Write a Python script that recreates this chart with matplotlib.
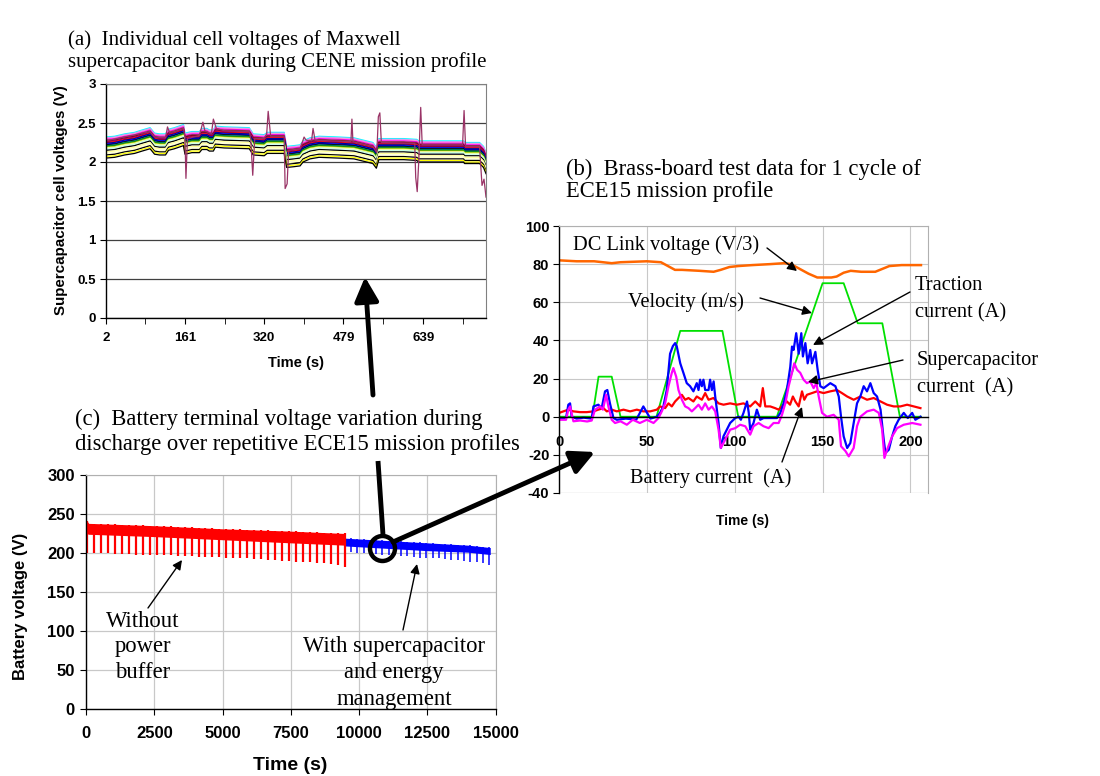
import numpy as np
import matplotlib
matplotlib.use('Agg')
import matplotlib.pyplot as plt
from matplotlib.patches import Circle
from matplotlib.ticker import FuncFormatter

SERIF = 'Liberation Serif'
SANS = 'Liberation Sans'
plt.rcParams['font.family'] = SANS
plt.rcParams['font.weight'] = 'bold'
plt.rcParams['axes.unicode_minus'] = False

# ---------------- Panel (a) data : supercapacitor cell voltages ----------------
cell_t = [2, 20, 40, 60, 75, 91, 100, 110, 122, 128,
          140, 158, 161, 175, 190, 195, 205, 210, 218, 222,
          240, 290, 298, 320, 326, 335, 360, 365, 380, 392,
          398, 412, 430, 470, 500, 538, 545, 550, 600, 626,
          630, 700, 720, 722, 752, 760, 765]
cell_top = [2.32, 2.33, 2.36, 2.38, 2.41, 2.44, 2.37, 2.36, 2.36, 2.42,
            2.44, 2.48, 2.37, 2.39, 2.39, 2.43, 2.43, 2.41, 2.41, 2.46,
            2.45, 2.44, 2.36, 2.35, 2.38, 2.38, 2.38, 2.20, 2.21, 2.22,
            2.27, 2.31, 2.33, 2.32, 2.31, 2.25, 2.19, 2.30, 2.30, 2.29,
            2.27, 2.27, 2.27, 2.25, 2.25, 2.20, 2.12]
cell_offsets = [0.0, 0.01, 0.02, 0.03, 0.04, 0.05, 0.06, 0.07, 0.08, 0.09,
                0.10, 0.11, 0.12, 0.13, 0.14, 0.15, 0.16, 0.17, 0.19, 0.21,
                0.23, 0.25, 0.27]
cell_colors = ['#00FFFF', '#CC99FF', '#FF99CC', '#FF00FF', '#993366', '#800000',
               '#800080', '#FF0000', '#000080', '#0000FF', '#000000', '#008080',
               '#008000', '#99CC00', '#FFFF99', '#CCFFCC', '#CCFFFF', '#000000',
               '#FFFF99', '#FFFFCC', '#000000', '#FFFF00', '#000000']
odd_t = [2, 91, 100, 122, 126, 130, 140, 158, 161, 163,
         166, 190, 197, 201, 214, 218, 224, 240, 290, 293,
         297, 301, 320, 325, 328, 333, 360, 362, 366, 369,
         392, 400, 404, 415, 418, 422, 494, 496, 498, 538,
         546, 549, 552, 555, 622, 624, 627, 630, 634, 637,
         718, 721, 724, 752, 757, 761, 765]
odd_v = [2.27, 2.39, 2.32, 2.31, 2.45, 2.38, 2.39, 2.43, 2.32, 1.79,
         2.30, 2.34, 2.51, 2.40, 2.36, 2.55, 2.43, 2.40, 2.39, 2.30,
         1.83, 2.30, 2.30, 2.36, 2.65, 2.33, 2.33, 1.66, 1.72, 2.15,
         2.17, 2.32, 2.28, 2.27, 2.43, 2.28, 2.26, 2.55, 2.26, 2.20,
         2.12, 2.58, 2.63, 2.25, 2.24, 1.80, 1.62, 2.00, 2.70, 2.22,
         2.22, 2.66, 2.20, 2.20, 1.70, 1.78, 1.55]
a_xticks = [2, 161, 320, 479, 639]
a_xminor = [81.5, 240.5, 399.5, 559, 718]

# ---------------- Panel (b) data : brass-board test, one ECE15 cycle ----------------
vel_t = [0, 19, 22.5, 30, 35, 55.5, 69, 93, 102, 124, 150, 162, 170, 184, 194, 206]
vel_v = [0, 0, 21, 21, 0, 0, 45, 45, 0, 0, 70, 70, 49, 49, 0, 0]

dc_t = [0, 10, 20, 25, 30, 35, 50, 58, 62, 66, 70, 80, 88, 92, 97, 102, 110,
        120, 128, 132, 137, 142, 147, 155, 158, 162, 166, 172, 180, 184, 188, 195, 206]
dc_v = [82, 81.5, 81.5, 81, 80.5, 81, 81.5, 81, 79, 77, 77, 76.5, 76, 77, 78.5, 79, 79.5,
        80, 80.5, 80, 77.5, 75, 73, 73, 73.5, 75.5, 76.5, 76, 76, 77.5, 79, 79.5, 79.5]

trac_t = [0, 4, 5.3, 6.3, 7.2, 10, 14, 18.6, 19.6, 22.4,
          24.3, 26.2, 27.5, 29, 31, 32.9, 38, 44, 48, 52,
          55.7, 57.5, 59.4, 61.3, 63.2, 64.8, 66.1, 67, 69, 70.8,
          72.7, 74.6, 76.5, 78.4, 79.4, 80.3, 81.3, 82.2, 83.2, 85.1,
          86, 87, 88, 88.9, 90.8, 92.1, 93.6, 95.5, 97.4, 100.3,
          102.2, 103.5, 105, 107, 108, 108.8, 110.7, 112.6, 114.5, 116.4,
          120, 124, 126, 127.8, 129.7, 131.6, 132.6, 133.5, 135, 136.4,
          137.9, 138.8, 140.2, 141.5, 143, 144, 145.9, 147.2, 148.7, 150.6,
          154.4, 157.3, 159.2, 160.5, 162, 164, 165.8, 167.7, 169.6, 171.5,
          173.4, 175.3, 177.2, 179.1, 181, 183, 184.8, 185.8, 187.7, 189.6,
          191.4, 193.3, 196.2, 198.5, 201, 202.8, 205.7]
trac_v = [-0.7, -0.7, 6.3, 7, 0, -1, -0.5, -1, 5.4, 6.3,
          4.5, 13.3, 14, 7, -0.7, -1.6, -1, -1.5, 5.4, -1,
          0, 2, 5.4, 14, 33, 37, 38.6, 37, 28, 23,
          17.6, 16, 13.3, 17.6, 14, 19.4, 16, 19.4, 14, 14,
          19.4, 14, 18.5, 10.6, -3.3, -16.4, -10.3, -6.8, -3.3, -0.7,
          0, -1.6, 2, 8, 2, -6.8, -3.3, 3.7, -1.6, -0.7,
          -0.7, -0.7, 2, 7, 14, 26, 36.8, 35, 43.8, 33,
          43.8, 31.6, 38.6, 28, 35, 28, 34, 24.6, 16, 15,
          17.6, 16, 10.6, 0, -10.3, -16.4, -13.8, -3.3, 7, 10.6,
          16, 13.3, 17.6, 12.4, 10.6, 3.7, -12, -19, -17.3, -10.3,
          -5, -1.6, 2, -0.7, 2, -1.6, 0]

sc_t = [0, 4, 5.3, 6.3, 8.2, 12, 16, 18.6, 20.5, 23.4,
        25, 26.8, 28.1, 30, 31.9, 35, 38.6, 42, 46, 50,
        53.8, 56.6, 58.5, 60.4, 62.3, 64.2, 65.1, 66.7, 68, 69.9,
        71.8, 73.7, 75.6, 77.5, 79.4, 81.3, 83.2, 85.1, 87, 88.9,
        90.8, 92.1, 94.6, 97.4, 100.3, 103.1, 106, 108.8, 110.7, 113.6,
        116.4, 119.3, 122.1, 125, 126.9, 128.8, 130.7, 132.6, 133.9, 135.5,
        137.3, 139.2, 141.1, 143, 144.9, 146.5, 147.8, 149.7, 152.5, 156.3,
        159.2, 160.5, 163, 164.9, 167.7, 169.6, 171.5, 175.3, 179.1, 182,
        183.9, 185.2, 186.7, 189.6, 192.4, 196.2, 201, 205.7]
sc_v = [-1.6, -1.6, 3.7, 5.4, -2.4, -2, -2.5, -2, 3.7, 5.4,
        3.7, 11.5, 5.4, -1.6, -3.3, -2.4, -4.2, -1.6, -3.3, -1.6,
        -3.3, -0.7, 2.8, 7, 16, 23, 25.5, 21, 14, 9,
        5.4, 4.5, 2.8, 4.5, 6.3, 3.7, 7, 3.7, 5.4, 2.8,
        -6.8, -16.4, -12, -6.8, -6, -4.2, -5, -9.4, -5, -3.3,
        -5, -6, -3.3, -3.3, 1, 7, 16, 23, 28, 24.6,
        23, 19.4, 17.6, 18.5, 15, 17.6, 10.6, 2, 0, 1,
        -1.6, -15.5, -18, -20.8, -16.4, -5, 0, 2.8, 3.7, 2,
        -6.8, -21.6, -17.3, -10.3, -6, -4.2, -3.3, -4.2]

bat_t = [0, 2.5, 5.3, 8.2, 12, 15.8, 19.6, 22.4, 25.3, 27.2,
         30, 32.9, 36.7, 40.5, 44.3, 48, 51.9, 55.7, 57.5, 60.4,
         62.3, 64.2, 66.1, 68, 69.9, 71.8, 73.7, 76.5, 78.4, 81.3,
         83.2, 85.1, 87.9, 90.8, 93.6, 97.4, 101.2, 105, 108.8, 111.7,
         114.5, 116, 117.4, 120.2, 123, 125, 127.8, 129.7, 131.5, 133.1,
         134.5, 136.4, 138.3, 139.6, 141.1, 144, 146.8, 150.6, 154.4, 158.2,
         161, 164, 167.7, 171.5, 175.3, 179.1, 183, 186.7, 190.5, 194.3,
         198.1, 201.9, 205.7]
bat_v = [2, 2.8, 3.7, 2.8, 2.4, 2.4, 2.8, 3.7, 4.5, 2.8,
         3.7, 2.8, 3.7, 2.8, 3.7, 2.8, 2.8, 3.7, 5.4, 4.5,
         7, 5.4, 8, 9.8, 11.5, 8.9, 9.8, 8, 10.6, 8.9,
         12.4, 8.9, 9.8, 7, 6.3, 7, 6.3, 7, 5.4, 8,
         5.4, 15, 5.4, 5.4, 4.5, 3.7, 6.3, 8, 6.3, 10.6,
         8, 5.4, 13.3, 8.9, 11.5, 12.4, 13.3, 12.4, 13.3, 14,
         12.4, 10.6, 8.9, 10.6, 8.9, 9.8, 8, 6.3, 5.4, 5.4,
         6.3, 5.4, 4.5]

# ---------------- Panel (c) data : battery terminal voltage ----------------
red_env_t = [0, 100, 2500, 5000, 7500, 9500]
red_top = [243, 238, 235, 231, 228, 225]
red_bot = [225, 224, 221, 217, 213, 210]
red_cycle_t = [40, 295, 550, 805, 1060, 1315, 1570, 1825, 2080, 2335,
               2590, 2845, 3100, 3355, 3610, 3865, 4120, 4375, 4630, 4885,
               5140, 5395, 5650, 5905, 6160, 6415, 6670, 6925, 7180, 7435,
               7690, 7945, 8200, 8455, 8710, 8965, 9220, 9475]
red_min = [200, 200, 200, 200, 199, 199, 199, 198, 198, 198,
           197, 197, 197, 196, 196, 196, 195, 195, 195, 195,
           194, 194, 193, 193, 192, 192, 191, 191, 190, 190,
           189, 189, 188, 187, 187, 186, 185, 182]
blue_env_t = [9500, 11000, 12500, 14000, 14800]
blue_top = [219, 216, 213, 210, 207]
blue_bot = [209, 206, 203, 201, 198]
blue_cycle_t = [9700, 9930, 10160, 10390, 10620, 10850, 11080, 11310, 11540, 11770,
                12000, 12230, 12460, 12690, 12920, 13150, 13380, 13610, 13840, 14070,
                14300, 14530, 14760]
blue_min = [201, 200, 200, 199, 199, 198, 197, 197, 196, 196,
            195, 194, 194, 193, 193, 192, 191, 191, 190, 189,
            188, 187, 184]

# ---------------- figure ----------------
W, H = 1100, 776
fig = plt.figure(figsize=(W / 100, H / 100), dpi=100)


def ax_px(l, t, r, b):
    return fig.add_axes([l / W, 1 - b / H, (r - l) / W, (b - t) / H])


def style_frame(ax, gray='#808080'):
    for s in ['top', 'right']:
        ax.spines[s].set_color(gray)
        ax.spines[s].set_linewidth(0.8)
    for s in ['left', 'bottom']:
        ax.spines[s].set_color('black')
        ax.spines[s].set_linewidth(1.0)


fmt_g = FuncFormatter(lambda v, p: ('%g' % v))

# Panel (a)
axa = ax_px(105.7, 84, 486, 318)
for off, c in zip(cell_offsets, cell_colors):
    axa.plot(cell_t, np.array(cell_top) - off, color=c, lw=0.9)
axa.plot(odd_t, odd_v, color='#993366', lw=0.9)
axa.set_xlim(2, 765)
axa.set_ylim(0, 3)
axa.set_yticks(np.arange(0, 3.01, 0.5))
axa.yaxis.set_major_formatter(fmt_g)
axa.set_xticks(a_xticks)
axa.set_xticks(a_xminor, minor=True)
axa.grid(axis='y', color='#404040', lw=0.9)
axa.set_axisbelow(True)
style_frame(axa)
axa.tick_params(axis='both', which='both', direction='out', length=4, labelsize=9.5, pad=6)
axa.tick_params(axis='y', pad=3)

# Panel (b)
axb = ax_px(559, 226, 928, 493)
axb.plot(dc_t, dc_v, color='#FF6600', lw=1.8)
axb.plot(vel_t, vel_v, color='#00E000', lw=1.3)
axb.plot(bat_t, bat_v, color='#FF0000', lw=1.6)
axb.plot(trac_t, trac_v, color='#0000FF', lw=1.6)
axb.plot(sc_t, sc_v, color='#FF00FF', lw=1.6)
axb.set_xlim(0, 210)
axb.set_ylim(-40, 100)
axb.set_yticks(np.arange(-40, 101, 20))
axb.set_xticks([0, 50, 100, 150, 200])
axb.grid(True, color='#C8C8C8', lw=0.8)
axb.set_axisbelow(True)
style_frame(axb, gray='#B0B0B0')
axb.spines['bottom'].set_position(('data', 0))
axb.axhline(-40, color='#B0B0B0', lw=0.8)
axb.tick_params(axis='y', direction='out', length=4, labelsize=10.5, pad=3)
axb.tick_params(axis='x', direction='out', length=0, labelsize=10.5, pad=13)

# Panel (c)
axc = ax_px(86, 475, 495.7, 709)
axc.fill_between(red_env_t, red_bot, red_top, color='#FF0000', lw=0)
axc.vlines(red_cycle_t, red_min, np.interp(red_cycle_t, red_env_t, red_top),
           color='#FF0000', lw=1.6)
axc.fill_between(blue_env_t, blue_bot, blue_top, color='#0000FF', lw=0)
axc.vlines(blue_cycle_t, blue_min, np.interp(blue_cycle_t, blue_env_t, blue_top),
           color='#0000FF', lw=1.1)
axc.set_xlim(0, 15000)
axc.set_ylim(0, 300)
axc.set_xticks(np.arange(0, 15001, 2500))
axc.set_yticks(np.arange(0, 301, 50))
axc.grid(True, color='#C8C8C8', lw=0.9)
axc.set_axisbelow(True)
style_frame(axc, gray='#B0B0B0')
axc.tick_params(axis='both', direction='out', length=4, labelsize=12, pad=8)
axc.tick_params(axis='y', pad=4)

# ---------------- overlay (pixel coordinates) ----------------
ov = fig.add_axes([0, 0, 1, 1], zorder=10)
ov.set_xlim(0, W)
ov.set_ylim(H, 0)
ov.axis('off')
ov.patch.set_alpha(0)

ser = dict(family=SERIF, fontweight='normal', color='black')


def stext(x, y, s, size=14.7, ha='left'):
    ov.text(x, y, s, fontsize=size, ha=ha, va='baseline', **ser)


# titles
stext(68, 45, '(a)  Individual cell voltages of Maxwell', size=15)
stext(68, 67, 'supercapacitor bank during CENE mission profile', size=15)
stext(566, 175, '(b)  Brass-board test data for 1 cycle of', size=16.3)
stext(566, 197, 'ECE15 mission profile', size=16.3)
stext(75, 425, '(c)  Battery terminal voltage variation during', size=16.3)
stext(75, 450, 'discharge over repetitive ECE15 mission profiles', size=16.3)

# panel (b) annotations
stext(573, 250, 'DC Link voltage (V/3)')
stext(628, 307, 'Velocity (m/s)')
stext(915, 290, 'Traction')
stext(915, 317, 'current (A)')
stext(917, 365, 'Supercapacitor')
stext(917, 392, 'current  (A)')
stext(630, 483, 'Battery current  (A)')

# panel (c) annotations
stext(143, 627, 'Without', ha='center', size=16.3)
stext(143, 652, 'power', ha='center', size=16.3)
stext(143, 678, 'buffer', ha='center', size=16.3)
stext(394, 652, 'With supercapacitor', ha='center', size=16.3)
stext(394, 678, 'and energy', ha='center', size=16.3)
stext(394, 705, 'management', ha='center', size=16.3)

# axis labels
bold = dict(family=SANS, fontweight='bold', color='black', ha='center', va='center')
ov.text(296, 363, 'Time (s)', fontsize=10.5, **bold)
ov.text(61, 200, 'Supercapacitor cell voltages (V)', fontsize=10.9, rotation=90, **bold)
ov.text(743, 521, 'Time (s)', fontsize=10, **bold)
ov.text(290, 765, 'Time (s)', fontsize=14, **bold)
ov.text(21, 606, 'Battery voltage (V)', fontsize=12, rotation=90, **bold)


def arrow(tail, head, lw=1.0, ms=14):
    ov.annotate('', xy=head, xytext=tail,
                arrowprops=dict(arrowstyle='-|>', lw=lw, color='black',
                                mutation_scale=ms, shrinkA=0, shrinkB=0))


# thin arrows
arrow((767, 248), (797, 271))
arrow((760, 298), (812, 313))
arrow((910, 292), (813, 345))
arrow((903, 360), (808, 382))
arrow((782, 462), (802, 407))
arrow((148, 608), (182, 560))
arrow((403, 630), (417, 564))

# thick arrows and circle
ov.plot([383, 378], [535, 461], color='black', lw=3.5, solid_capstyle='butt')
arrow((373, 395), (365, 277), lw=3.5, ms=36)
arrow((393, 542), (595, 452), lw=3.5, ms=36)
ov.add_patch(Circle((382.5, 548.5), 12.5, fill=False, lw=3.2, color='black'))

fig.savefig('out.png', dpi=100)
